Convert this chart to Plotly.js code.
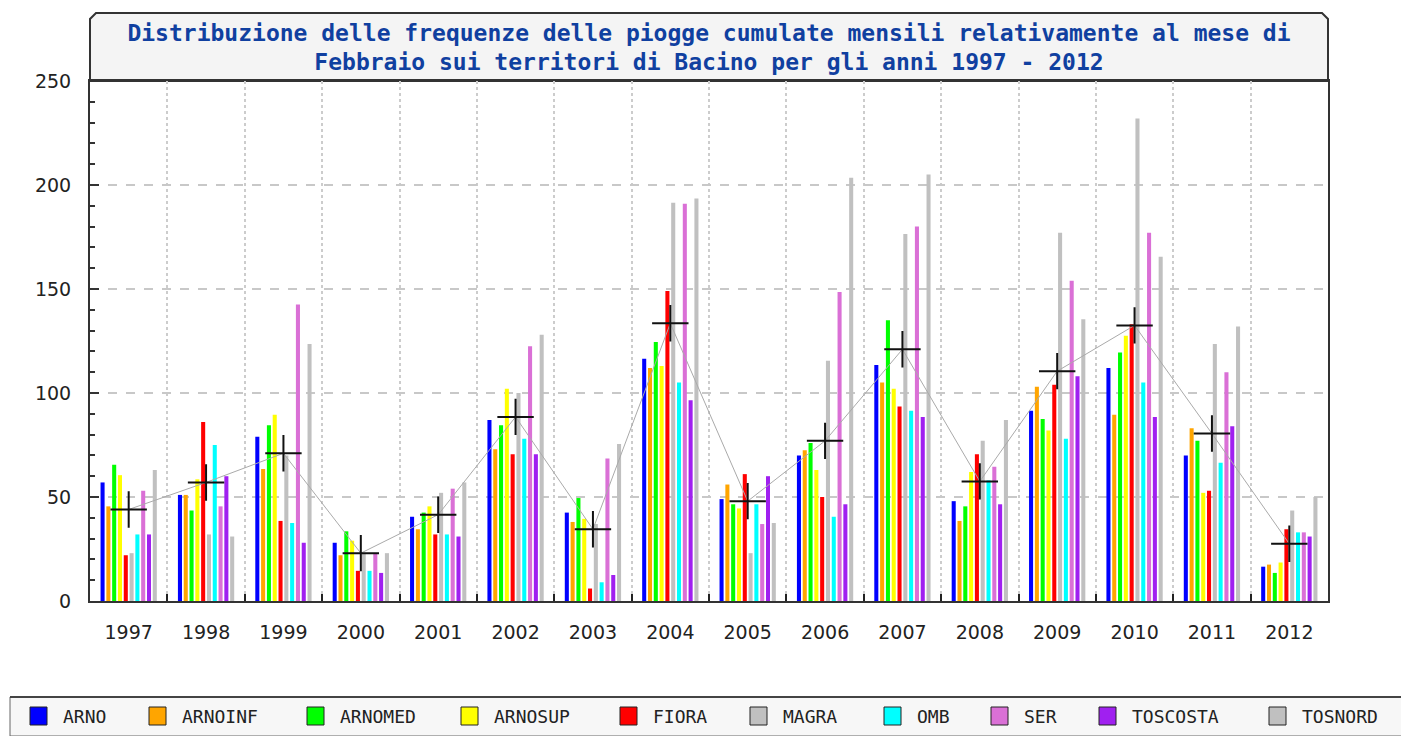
<!DOCTYPE html>
<html>
<head>
<meta charset="utf-8">
<script src="https://cdn.plot.ly/plotly-3.0.1.min.js"></script>
<style>html,body{margin:0;padding:0;background:#fff;}#chart{width:1401px;height:736px;}</style>
</head>
<body>
<div id="chart"></div>
<script>
const years = ['1997','1998','1999','2000','2001','2002','2003','2004','2005','2006','2007','2008','2009','2010','2011','2012'];

const ARNO     = [57, 51, 79, 28, 40.5, 87, 42.5, 116.5, 49, 70, 113.5, 48, 91.5, 112, 70, 16.5];
const ARNOINF  = [45.5, 51, 63.5, 22, 34.5, 73, 38, 112, 56, 72.5, 105, 38.5, 103, 89.5, 83, 17.5];
const ARNOMED  = [65.5, 43.5, 84.5, 33.5, 42.5, 84.5, 49.5, 124.5, 46.5, 76, 135, 45.5, 87.5, 119.5, 77, 13.5];
const ARNOSUP  = [60.5, 58.5, 89.5, 29, 45.5, 102, 39.5, 113, 44.5, 63, 102, 62, 82, 127.5, 52, 18.5];
const FIORA    = [22, 86, 38.5, 14.5, 32, 70.5, 6, 149, 61, 50, 93.5, 70.5, 104, 133, 53, 34.5];
const MAGRA    = [23, 32, 70, 23, 52, 100, 37, 191.5, 23, 115.5, 176.5, 77, 177, 232, 123.5, 43.5];
const OMB      = [32, 75, 37.5, 14.5, 32, 78, 9, 105, 46.5, 40.5, 91.5, 58, 78, 105, 66.5, 33];
const SER      = [53, 45.5, 142.5, 23, 54, 122.5, 68.5, 191, 37, 148.5, 180, 64.5, 154, 177, 110, 33];
const TOSCOSTA = [32, 60, 28, 13.5, 31, 70.5, 12.5, 96.5, 60, 46.5, 88.5, 46.5, 108, 88.5, 84, 31];
const TOSNORD  = [63, 31, 123.5, 23, 57, 128, 75.5, 193.5, 37.5, 203.5, 205, 87, 135.5, 165.5, 132, 50];
const MEDIA    = [44, 57, 71, 23, 41.5, 88.5, 34.5, 133.5, 48, 77, 121, 57.5, 110.5, 132.5, 80.5, 27.5];

const seriesNames  = ['ARNO','ARNOINF','ARNOMED','ARNOSUP','FIORA','MAGRA','OMB','SER','TOSCOSTA','TOSNORD'];
const seriesValues = [ARNO, ARNOINF, ARNOMED, ARNOSUP, FIORA, MAGRA, OMB, SER, TOSCOSTA, TOSNORD];
const seriesColors = ['#0000ff','#ffa500','#00ff00','#ffff00','#ff0000','#c0c0c0','#00ffff','#da70d6','#a020f0','#c0c0c0'];

const titleText = 'Distribuzione delle frequenze delle piogge cumulate mensili relativamente al mese di<br>Febbraio sui territori di Bacino per gli anni 1997 - 2012';

// legend layout (pixel positions of each swatch's left edge)
const legendSwatchX = [30, 149, 307, 461, 620, 750, 884, 991, 1099, 1269];

const W = 1401, H = 736, ML = 90, MR = 73, MT = 81, MB = 135;
const PW = W - ML - MR, PH = H - MT - MB;
const px = x => (x - ML) / PW;
const py = y => (H - MB - y) / PH;

const traces = seriesNames.map((n, i) => ({
  type: 'bar', name: n, x: years, y: seriesValues[i],
  marker: {color: seriesColors[i]}, hoverinfo: 'x+y+name'
}));
traces.push({
  type: 'scatter', mode: 'lines+markers', name: 'MEDIA', x: years, y: MEDIA,
  showlegend: false,
  line: {color: '#aaaaaa', width: 1},
  marker: {symbol: 'cross-thin', size: 26, color: '#111', line: {color: '#111', width: 2}}
});

const shapes = [
  { // title box
    type: 'path', xref: 'paper', yref: 'paper', layer: 'below',
    path: 'M0,1 L0,' + py(19) + ' L' + px(96) + ',' + py(13) + ' L' + px(1322) + ',' + py(13) +
          ' L1,' + py(19) + ' L1,1 Z',
    fillcolor: '#f4f4f4', line: {color: '#333', width: 2}
  },
  { // legend box
    type: 'rect', xref: 'paper', yref: 'paper', layer: 'below',
    x0: px(10), x1: px(1410), y0: py(736), y1: py(697),
    fillcolor: '#f7f7f7', line: {color: '#666', width: 1}
  },
  { // legend top border (thicker)
    type: 'line', xref: 'paper', yref: 'paper',
    x0: px(10), x1: px(1410), y0: py(697), y1: py(697),
    line: {color: '#444', width: 2}
  }
];
const annotations = [];
seriesNames.forEach((n, i) => {
  shapes.push({
    type: 'rect', xref: 'paper', yref: 'paper',
    x0: px(legendSwatchX[i]), x1: px(legendSwatchX[i] + 17),
    y0: py(725), y1: py(707),
    fillcolor: seriesColors[i], line: {color: '#222', width: 1}
  });
  annotations.push({
    xref: 'paper', yref: 'paper', x: px(legendSwatchX[i] + 31), y: py(716),
    xanchor: 'left', yanchor: 'middle', showarrow: false, text: n,
    font: {family: 'DejaVu Sans Mono', size: 18, color: '#222'}
  });
});

const layout = {
  width: W, height: H,
  margin: {l: ML, r: MR, t: MT, b: MB, pad: 0, autoexpand: false},
  paper_bgcolor: '#ffffff', plot_bgcolor: '#ffffff',
  barmode: 'group', bargap: 0.25, bargroupgap: 0.3,
  showlegend: false,
  title: {
    text: titleText, x: 0.5, xref: 'paper', xanchor: 'center',
    y: py(51), yref: 'paper', yanchor: 'middle',
    font: {family: 'DejaVu Sans Mono', size: 23, color: '#1040a0', weight: 'bold'}
  },
  xaxis: {
    type: 'category', categoryorder: 'array', categoryarray: years,
    range: [-0.5, 15.5], tickson: 'boundaries',
    ticks: 'inside', ticklen: 7, tickwidth: 2, tickcolor: '#222',
    showgrid: true, gridcolor: '#cccccc', griddash: 'dot', gridwidth: 2,
    showline: true, linecolor: '#333', linewidth: 2, mirror: true,
    tickfont: {family: 'DejaVu Sans', size: 19, color: '#222'},
    ticklabelstandoff: 13, fixedrange: true, automargin: false
  },
  yaxis: {
    range: [0, 250], dtick: 50, tick0: 0,
    ticks: 'inside', ticklen: 9, tickwidth: 2, tickcolor: '#333',
    showgrid: true, gridcolor: '#c8c8c8', griddash: 'dash', gridwidth: 2,
    zeroline: false,
    showline: true, linecolor: '#333', linewidth: 2, mirror: true,
    minor: {dtick: 10, ticks: 'inside', ticklen: 5, tickwidth: 2, tickcolor: '#333', showgrid: false},
    tickfont: {family: 'DejaVu Sans', size: 19, color: '#222'},
    ticklabelstandoff: 13, fixedrange: true, automargin: false
  },
  shapes: shapes,
  annotations: annotations
};

Plotly.newPlot('chart', traces, layout, {displayModeBar: false, staticPlot: true});
</script>
</body>
</html>
